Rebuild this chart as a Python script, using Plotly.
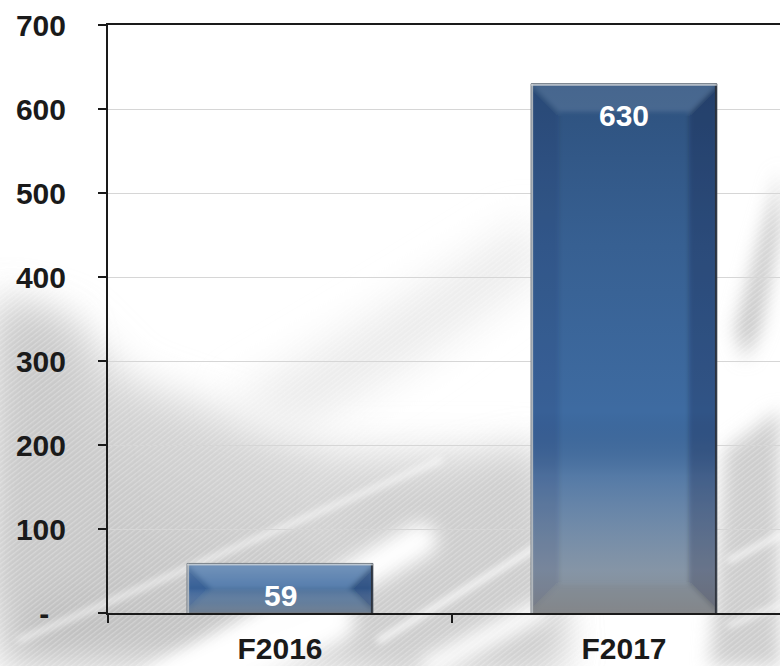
import base64
import plotly.graph_objects as go

# ---- data ----
categories = ["F2016", "F2017"]
values = [59, 630]
y_tick_values = [0, 100, 200, 300, 400, 500, 600, 700]
y_tick_labels = ["-\u00a0\u00a0", "100", "200", "300", "400", "500", "600", "700"]

# ---- layout constants ----
W, H = 780, 666
M = dict(l=108, r=0, t=25, b=53)
Y_MAX = 700
X_RANGE = [-0.5, 1.4535]
BAR_W = 0.54
FONT = "Liberation Sans, Arial, sans-serif"

plot_w = W - M["l"] - M["r"]
plot_h = H - M["t"] - M["b"]
px_per_unit = plot_h / Y_MAX
px_per_cat = plot_w / (X_RANGE[1] - X_RANGE[0])


def svg_uri(svg):
    return "data:image/svg+xml;base64," + base64.b64encode(svg.encode()).decode()


# Soft feather-like backdrop behind the plot
background_svg = """<svg xmlns='http://www.w3.org/2000/svg' width='780' height='666' viewBox='0 0 780 666' preserveAspectRatio='none'>
<defs>
 <filter id='b24' x='-50%' y='-50%' width='200%' height='200%'><feGaussianBlur stdDeviation='20'/></filter>
 <filter id='b10' x='-50%' y='-50%' width='200%' height='200%'><feGaussianBlur stdDeviation='9'/></filter>
 <filter id='b4' x='-50%' y='-50%' width='200%' height='200%'><feGaussianBlur stdDeviation='3.5'/></filter>
 <pattern id='barbs' width='4' height='4' patternUnits='userSpaceOnUse' patternTransform='rotate(-38)'>
   <rect width='4' height='1.3' fill='white' fill-opacity='0.25'/>
 </pattern>
 <linearGradient id='lg' x1='0' y1='1' x2='0.7' y2='0.1'>
   <stop offset='0' stop-color='#bababa'/>
   <stop offset='0.5' stop-color='#cdcdcd'/>
   <stop offset='1' stop-color='#eaeaea'/>
 </linearGradient>
</defs>
<rect width='780' height='666' fill='white'/>
<polygon points='0,300 70,320 130,380 330,450 540,450 560,666 0,666' fill='url(#lg)' filter='url(#b24)'/>
<polygon points='0,300 70,330 100,560 0,620' fill='#c9c9c9' filter='url(#b24)'/>
<polygon points='340,500 540,450 560,666 360,666' fill='#cdcdcd' filter='url(#b24)'/>
<polygon points='230,400 400,300 530,220 545,270 420,360 300,430' fill='#ebebeb' filter='url(#b24)'/>
<polygon points='735,330 760,240 780,170 780,230 760,330 745,360' fill='#c6c6c6' filter='url(#b10)'/>
<polygon points='725,450 780,410 780,666 710,666' fill='#cdcdcd' filter='url(#b10)'/>
<g stroke='white' fill='none' stroke-linecap='round'>
 <line x1='130' y1='700' x2='420' y2='540' stroke-width='34' filter='url(#b10)'/>
 <line x1='170' y1='690' x2='330' y2='620' stroke-width='50' filter='url(#b10)'/>
 <line x1='20' y1='640' x2='440' y2='460' stroke-width='5' stroke-opacity='0.8' filter='url(#b4)'/>
 <line x1='380' y1='640' x2='540' y2='545' stroke-width='7' stroke-opacity='0.8' filter='url(#b4)'/>
 <line x1='430' y1='666' x2='540' y2='610' stroke-width='20' filter='url(#b10)'/>
 <line x1='730' y1='560' x2='780' y2='535' stroke-width='6' stroke-opacity='0.8' filter='url(#b4)'/>
 <line x1='730' y1='625' x2='780' y2='605' stroke-width='5' stroke-opacity='0.8' filter='url(#b4)'/>
</g>
<rect width='780' height='666' fill='url(#barbs)'/>
</svg>"""


def bar_shade_svg(w, h):
    # vertical lighting plus bevelled edges laid over a bar
    b = min(28.0, h / 2.0)
    if h > 150:
        stops = """
<stop offset='0' stop-color='#0b1a33' stop-opacity='0.32'/>
<stop offset='0.3' stop-color='#0b1a33' stop-opacity='0.14'/>
<stop offset='0.62' stop-color='#0b1a33' stop-opacity='0'/>
<stop offset='0.74' stop-color='#a4aeb8' stop-opacity='0.22'/>
<stop offset='0.92' stop-color='#959ea7' stop-opacity='0.82'/>
<stop offset='1' stop-color='#8c8c8c' stop-opacity='0.92'/>"""
    else:
        stops = """
<stop offset='0' stop-color='#ffffff' stop-opacity='0.18'/>
<stop offset='0.5' stop-color='#ffffff' stop-opacity='0'/>
<stop offset='0.8' stop-color='#9aa3ad' stop-opacity='0.35'/>
<stop offset='1' stop-color='#8c8c8c' stop-opacity='0.6'/>"""
    return f"""<svg xmlns='http://www.w3.org/2000/svg' width='{w:.1f}' height='{h:.1f}' viewBox='0 0 {w:.1f} {h:.1f}' preserveAspectRatio='none'>
<defs>
<linearGradient id='v' x1='0' y1='0' x2='0' y2='1'>{stops}
</linearGradient>
<filter id='s' x='-20%' y='-20%' width='140%' height='140%'><feGaussianBlur stdDeviation='2'/></filter>
</defs>
<rect width='{w:.1f}' height='{h:.1f}' fill='url(#v)'/>
<g filter='url(#s)'>
<polygon points='0,0 {w:.1f},0 {w - b:.1f},{b:.1f} {b:.1f},{b:.1f}' fill='white' fill-opacity='0.12'/>
<polygon points='0,0 {b:.1f},{b:.1f} {b:.1f},{h - b:.1f} 0,{h:.1f}' fill='#0a1526' fill-opacity='0.10'/>
<polygon points='{w:.1f},0 {w - b:.1f},{b:.1f} {w - b:.1f},{h - b:.1f} {w:.1f},{h:.1f}' fill='#0a1526' fill-opacity='0.22'/>
<polygon points='0,{h:.1f} {b:.1f},{h - b:.1f} {w - b:.1f},{h - b:.1f} {w:.1f},{h:.1f}' fill='#7a7a7a' fill-opacity='0.22'/>
</g>
<rect x='0' y='0' width='2' height='{h:.1f}' fill='#b8bcc0' fill-opacity='0.9'/>
<rect x='{w - 2:.1f}' y='0' width='2' height='{h:.1f}' fill='#2a2f36' fill-opacity='0.9'/>
<rect x='0' y='0' width='{w:.1f}' height='2' fill='#d0d4d8' fill-opacity='0.8'/>
</svg>"""


fig = go.Figure()
fig.add_trace(go.Bar(
    x=categories,
    y=values,
    width=BAR_W,
    marker=dict(color="#3e6ba1", line=dict(color="#5a626b", width=1)),
    hoverinfo="x+y",
))

images = [dict(
    source=svg_uri(background_svg),
    xref="paper", yref="paper",
    x=-M["l"] / plot_w, y=1 + M["t"] / plot_h,
    sizex=W / plot_w, sizey=H / plot_h,
    xanchor="left", yanchor="top",
    sizing="stretch", layer="below",
)]
for i, v in enumerate(values):
    images.append(dict(
        source=svg_uri(bar_shade_svg(BAR_W * px_per_cat, v * px_per_unit)),
        xref="x", yref="y",
        x=i, y=v, sizex=BAR_W, sizey=v,
        xanchor="center", yanchor="top",
        sizing="stretch", layer="above",
    ))

annotations = [
    dict(x=c, y=v, xref="x", yref="y", text=str(v), showarrow=False,
         yanchor="middle", yshift=-32,
         font=dict(family=FONT, size=30, color="white", weight="bold"))
    for c, v in zip(categories, values)
]

fig.update_layout(
    width=W, height=H,
    margin=dict(l=M["l"], r=M["r"], t=M["t"], b=M["b"], pad=0),
    paper_bgcolor="white",
    plot_bgcolor="rgba(0,0,0,0)",
    showlegend=False,
    images=images,
    annotations=annotations,
    font=dict(family=FONT, size=30, color="#1a1a1a", weight="bold"),
    xaxis=dict(
        range=X_RANGE,
        showline=True, linecolor="#1a1a1a", linewidth=2, mirror=True,
        ticks="outside", tickson="boundaries", ticklen=8, tickwidth=2,
        tickcolor="#1a1a1a", showgrid=False, zeroline=False,
        ticklabelstandoff=8,
        tickfont=dict(family=FONT, size=30, color="#1a1a1a", weight="bold"),
    ),
    yaxis=dict(
        range=[0, Y_MAX],
        tickmode="array", tickvals=y_tick_values, ticktext=y_tick_labels,
        showline=True, linecolor="#1a1a1a", linewidth=2,
        ticks="outside", ticklen=8, tickwidth=2, tickcolor="#1a1a1a",
        showgrid=True, gridcolor="#d6d6d6", gridwidth=1.3, zeroline=False,
        ticklabelstandoff=26,
        tickfont=dict(family=FONT, size=30, color="#1a1a1a", weight="bold"),
    ),
)

fig.write_html("out.html")
